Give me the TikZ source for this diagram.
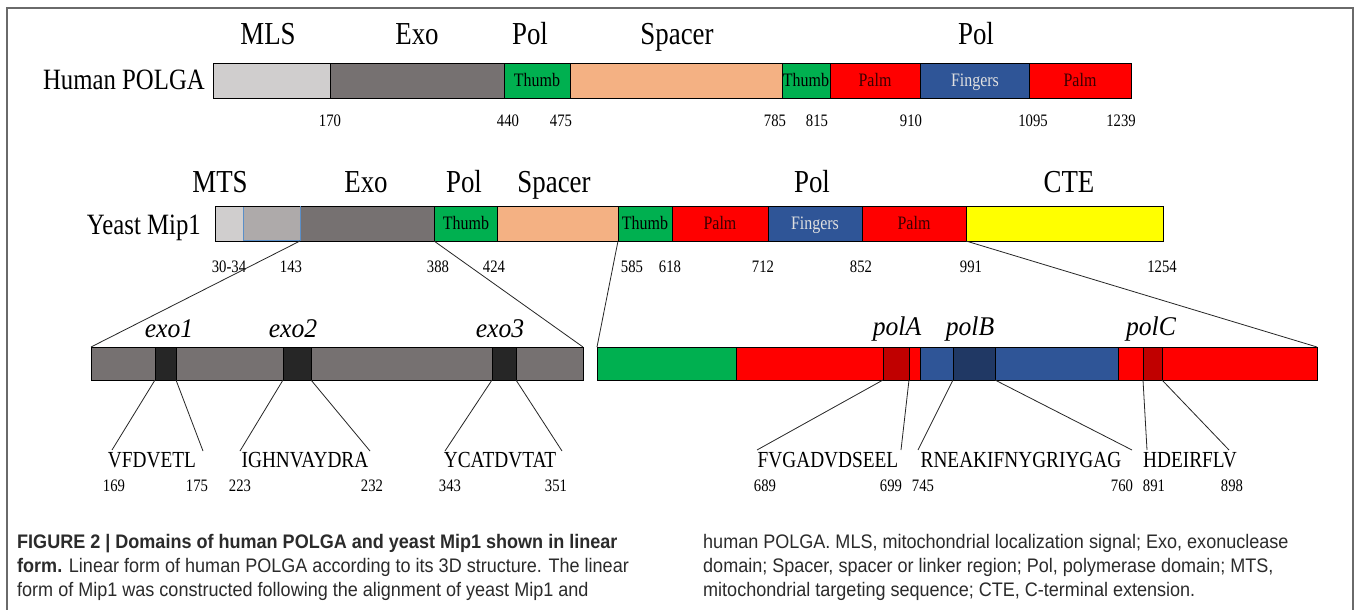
\documentclass[tikz,border=0pt]{standalone}
\usepackage{fontspec}
\setmainfont{Liberation Serif}
\newfontfamily\tnr[FakeStretch=0.84]{Liberation Serif}
\newfontfamily\tnri[FakeStretch=0.95]{Liberation Serif Italic}
\newfontfamily\capfont[FakeStretch=0.92]{Liberation Sans}
\definecolor{lgray}{HTML}{D0CECE}
\definecolor{mgray}{HTML}{AEAAAA}
\definecolor{dgray}{HTML}{767171}
\definecolor{pgreen}{HTML}{00B050}
\definecolor{spacer}{HTML}{F4B183}
\definecolor{pred}{HTML}{FF0000}
\definecolor{pblue}{HTML}{2F5597}
\definecolor{pyellow}{HTML}{FFFF00}
\definecolor{dkred}{HTML}{C00000}
\definecolor{dkblue}{HTML}{203864}
\definecolor{motif}{HTML}{262626}
\definecolor{palmtxt}{HTML}{3A0000}
\definecolor{mtsline}{HTML}{5B8FC8}
\definecolor{captxt}{HTML}{2B2B2B}
\definecolor{frame}{HTML}{6A6A6A}
\newcommand\dseg[6]{\node[seg, fill=#6, minimum width={(#3-#2)*1pt}, minimum height={(#5-#4)*1pt}] (#1) at (#2,#4) {};}
\tikzset{
  seg/.style={draw=black, line width=0.9pt, inner sep=0pt, outer sep=0pt, anchor=north west},
  biglab/.style={font=\tnr\fontsize{32}{34}\selectfont, anchor=base, inner sep=0pt},
  rowlab/.style={font=\tnr\fontsize{29.5}{32}\selectfont, anchor=base east, inner sep=0pt},
  num/.style={font=\tnr\fontsize{17.5}{19}\selectfont, anchor=base, inner sep=0pt},
  seqlab/.style={font=\tnr\fontsize{23}{25}\selectfont, anchor=base, inner sep=0pt},
  motlab/.style={font=\tnri\fontsize{27}{29}\selectfont, anchor=base, inner sep=0pt},
  inlab/.style={font=\tnr\fontsize{19}{20}\selectfont, anchor=base, inner sep=0pt},
  conn/.style={draw=black!85, line width=0.8pt},
  capl/.style={font=\capfont\fontsize{19.6}{21}\selectfont, text=captxt, anchor=base west, inner sep=0pt},
}
\begin{document}
\begin{tikzpicture}[x=1pt,y=-1pt]
\useasboundingbox (0,0) rectangle (1358,610);
\fill[white] (0,0) rectangle (1358,610);
\draw[frame, line width=1.6pt] (7,615) -- (7,8) -- (1353,8) -- (1353,615);

% ---------- Human POLGA ----------
\node[biglab] (hMLSl) at (268,45) {MLS};
\node[biglab] (hExol) at (417,45) {Exo};
\node[biglab] (hPol1) at (530,45) {Pol};
\node[biglab] (hSpl) at (677,45) {Spacer};
\node[biglab] (hPol2) at (976,45) {Pol};
\node[rowlab] (hname) at (205,89) {Human POLGA};
\dseg{hMLS}{213}{330}{63}{98}{lgray}
\dseg{hExo}{330}{504}{63}{98}{dgray}
\dseg{hTh1}{504}{570}{63}{98}{pgreen}
\dseg{hSp}{570}{782}{63}{98}{spacer}
\dseg{hTh2}{782}{830}{63}{98}{pgreen}
\dseg{hPa1}{830}{920}{63}{98}{pred}
\dseg{hFi}{920}{1029}{63}{98}{pblue}
\dseg{hPa2}{1029}{1131}{63}{98}{pred}
\node[inlab] (hTh1t) at (537,86) {Thumb};
\node[inlab] (hTh2t) at (806,86) {Thumb};
\node[inlab, text=palmtxt] (hPa1t) at (875,86) {Palm};
\node[inlab, text=white!88!black] (hFit) at (975,86) {Fingers};
\node[inlab, text=palmtxt] (hPa2t) at (1080,86) {Palm};
\node[num] (h170) at (330,126) {170};
\node[num] (h440) at (508,126) {440};
\node[num] (h475) at (561,126) {475};
\node[num] (h785) at (775,126) {785};
\node[num] (h815) at (817,126) {815};
\node[num] (h910) at (911,126) {910};
\node[num] (h1095) at (1033,126) {1095};
\node[num] (h1239) at (1121,126) {1239};

% ---------- Yeast Mip1 ----------
\node[biglab] (yMTSl) at (220,192) {MTS};
\node[biglab] (yExol) at (366,192) {Exo};
\node[biglab] (yPol1) at (464,192) {Pol};
\node[biglab] (ySpl) at (554,192) {Spacer};
\node[biglab] (yPol2) at (812,192) {Pol};
\node[biglab] (yCTEl) at (1069,192) {CTE};
\node[rowlab] (yname) at (201,234) {Yeast Mip1};
\dseg{yM1}{215}{243}{206}{241}{lgray}
\dseg{yExo}{300}{434}{206}{241}{dgray}
\dseg{yTh1}{434}{497}{206}{241}{pgreen}
\dseg{ySp}{497}{618}{206}{241}{spacer}
\dseg{yTh2}{618}{672}{206}{241}{pgreen}
\dseg{yPa1}{672}{768}{206}{241}{pred}
\dseg{yFi}{768}{862}{206}{241}{pblue}
\dseg{yPa2}{862}{966}{206}{241}{pred}
\dseg{yCTE}{966}{1163}{206}{241}{pyellow}
\node[seg, draw=mtsline, line width=0.7pt, fill=mgray, minimum width=57pt, minimum height=34pt] (yM2) at (243,206.5) {};
\draw[black, line width=0.9pt] (yM1.north west) -- (yExo.north west) (yM1.south west) -- (yExo.south west);
\node[inlab] (yTh1t) at (466,229) {Thumb};
\node[inlab] (yTh2t) at (645,229) {Thumb};
\node[inlab, text=palmtxt] (yPa1t) at (720,229) {Palm};
\node[inlab, text=white!88!black] (yFit) at (815,229) {Fingers};
\node[inlab, text=palmtxt] (yPa2t) at (914,229) {Palm};
\node[num] (y30) at (229,272) {30-34};
\node[num] (y143) at (291,272) {143};
\node[num] (y388) at (438,272) {388};
\node[num] (y424) at (494,272) {424};
\node[num] (y585) at (632,272) {585};
\node[num] (y618) at (670,272) {618};
\node[num] (y712) at (763,272) {712};
\node[num] (y852) at (861,272) {852};
\node[num] (y991) at (971,272) {991};
\node[num] (y1254) at (1162,272) {1254};

% ---------- Exo detail ----------
\dseg{xbar}{91}{583}{347}{380}{dgray}
\dseg{xm1}{155}{176}{347}{380}{motif}
\dseg{xm2}{283}{311}{347}{380}{motif}
\dseg{xm3}{492}{516}{347}{380}{motif}
\node[motlab] (xm1l) at (169,337) {exo1};
\node[motlab] (xm2l) at (293,337) {exo2};
\node[motlab] (xm3l) at (500,337) {exo3};

% ---------- Pol detail ----------
\dseg{pG}{597}{736}{347}{380}{pgreen}
\dseg{pR1}{736}{883}{347}{380}{pred}
\dseg{pA}{883}{909}{347}{380}{dkred}
\dseg{pR2}{909}{920}{347}{380}{pred}
\dseg{pB1}{920}{953}{347}{380}{pblue}
\dseg{pB}{953}{995}{347}{380}{dkblue}
\dseg{pB2}{995}{1118}{347}{380}{pblue}
\dseg{pR3}{1118}{1143}{347}{380}{pred}
\dseg{pC}{1143}{1162}{347}{380}{dkred}
\dseg{pR4}{1162}{1317}{347}{380}{pred}
\node[motlab] (pAl) at (897,335) {polA};
\node[motlab] (pBl) at (970,335) {polB};
\node[motlab] (pCl) at (1151,335) {polC};

% ---------- zoom connectors ----------
\draw[conn] (yExo.south west) -- (xbar.north west);
\draw[conn] (yExo.south east) -- (xbar.north east);
\draw[conn] (ySp.south east) -- (pG.north west);
\draw[conn] (yPa2.south east) -- (pR4.north east);

% ---------- sequences ----------
\node[seqlab] (s1) at (152,467) {VFDVETL};
\node[seqlab] (s2) at (305,467) {IGHNVAYDRA};
\node[seqlab] (s3) at (500,467) {YCATDVTAT};
\node[seqlab] (s4) at (828,467) {FVGADVDSEEL};
\node[seqlab] (s5) at (1021,467) {RNEAKIFNYGRIYGAG};
\node[seqlab] (s6) at (1190,467) {HDEIRFLV};
\coordinate (e1a) at (112,450); \coordinate (e1b) at (203,451);
\coordinate (e2a) at (240,451); \coordinate (e2b) at (370,451);
\coordinate (e3a) at (445,451); \coordinate (e3b) at (562,451);
\coordinate (e4a) at (757,450); \coordinate (e4b) at (901,450);
\coordinate (e5a) at (918,450); \coordinate (e5b) at (1132,450);
\coordinate (e6a) at (1147,450); \coordinate (e6b) at (1229,450);
\draw[conn] (xm1.south west) -- (e1a); \draw[conn] (xm1.south east) -- (e1b);
\draw[conn] (xm2.south west) -- (e2a); \draw[conn] (xm2.south east) -- (e2b);
\draw[conn] (xm3.south west) -- (e3a); \draw[conn] (xm3.south east) -- (e3b);
\draw[conn] (pA.south west) -- (e4a); \draw[conn] (pA.south east) -- (e4b);
\draw[conn] (pB.south west) -- (e5a); \draw[conn] (pB.south east) -- (e5b);
\draw[conn] (pC.south west) -- (e6a); \draw[conn] (pC.south east) -- (e6b);
\node[num] (b169) at (114,491) {169};
\node[num] (b175) at (197,491) {175};
\node[num] (b223) at (240,491) {223};
\node[num] (b232) at (372,491) {232};
\node[num] (b343) at (450,491) {343};
\node[num] (b351) at (556,491) {351};
\node[num] (b689) at (765,491) {689};
\node[num] (b699) at (891,491) {699};
\node[num] (b745) at (923,491) {745};
\node[num] (b760) at (1122,491) {760};
\node[num] (b891) at (1154,491) {891};
\node[num] (b898) at (1232,491) {898};

% ---------- caption ----------
\node[capl] (c1) at (17,548) {\textbf{FIGURE 2 | Domains of human POLGA and yeast Mip1 shown in linear}};
\node[capl] (c2) at (17,572) {\textbf{form.} Linear form of human POLGA according to its 3D structure. The linear};
\node[capl] (c3) at (17,596) {form of Mip1 was constructed following the alignment of yeast Mip1 and};
\node[capl] (c4) at (703,548) {human POLGA. MLS, mitochondrial localization signal; Exo, exonuclease};
\node[capl] (c5) at (703,572) {domain; Spacer, spacer or linker region; Pol, polymerase domain; MTS,};
\node[capl] (c6) at (703,596) {mitochondrial targeting sequence; CTE, C-terminal extension.};
\end{tikzpicture}
\end{document}
